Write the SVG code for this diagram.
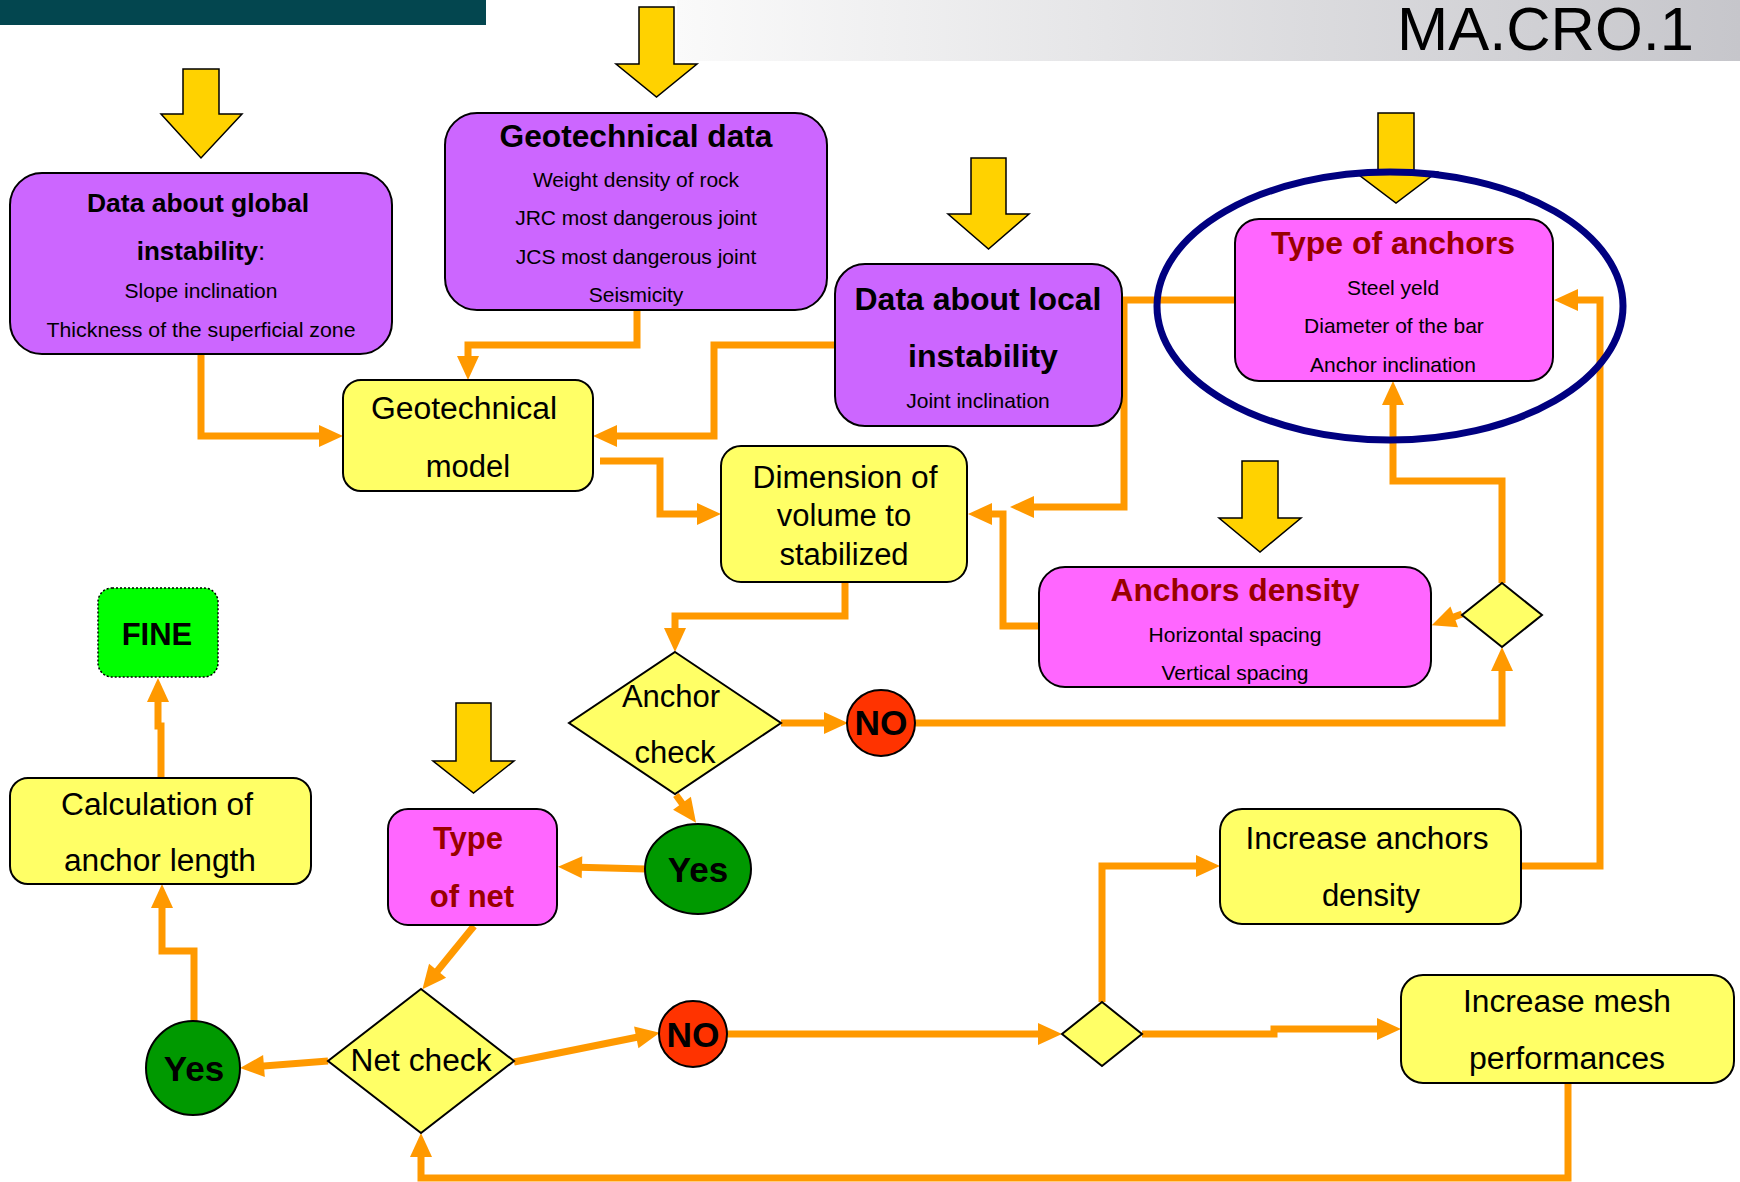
<svg xmlns="http://www.w3.org/2000/svg" width="1740" height="1182" viewBox="0 0 1740 1182">
  <style>
    .t { font-family: "Liberation Sans", Arial, Helvetica, sans-serif; text-anchor: middle; fill: #000; }
    .b { font-weight: bold; }
    .dr { fill: #990000; }
    .s21 { font-size: 21px; }
    .s26 { font-size: 26px; }
    .s31 { font-size: 31px; }
    .s35 { font-size: 35px; }
    .purple { fill: #CC66FF; stroke: #000; stroke-width: 2; }
    .magenta { fill: #FF66FF; stroke: #000; stroke-width: 2; }
    .yellow { fill: #FFFF66; stroke: #000; stroke-width: 2; }
    .no { fill: #FF3300; stroke: #000; stroke-width: 2; }
    .yes { fill: #009900; stroke: #000; stroke-width: 2; }
    .fine { fill: #00FF00; stroke: #000; stroke-width: 1.5; stroke-dasharray: 2 2; }
    .big { fill: #FFD200; stroke: #000; stroke-width: 1.5; stroke-linejoin: miter; }
    .link { fill: none; stroke: #FF9900; stroke-width: 7; stroke-linejoin: miter; }
    .arr { marker-end: url(#ah); }
  </style>
  <defs>
    <marker id="ah" markerUnits="userSpaceOnUse" markerWidth="24" markerHeight="22" refX="12" refY="11" orient="auto" overflow="visible">
      <path d="M0,0 L24,11 L0,22 z" fill="#FF9900"/>
    </marker>
    <linearGradient id="hdr" x1="0" y1="0" x2="1" y2="0">
      <stop offset="0" stop-color="#FAFAFA"/>
      <stop offset="1" stop-color="#C6C6CB"/>
    </linearGradient>
    <filter id="soft" x="-5%" y="-5%" width="110%" height="110%">
      <feGaussianBlur stdDeviation="0.7"/>
    </filter>
  </defs>

  <rect width="1740" height="1182" fill="#fff"/>

  <!-- header bands -->
  <g id="header">
    <rect x="0" y="0" width="486" height="25" fill="#03464F"/>
    <rect x="677" y="0" width="1063" height="61" fill="url(#hdr)"/>
    <text class="t" x="1397" y="50" font-size="62" style="text-anchor:start" textLength="297" lengthAdjust="spacingAndGlyphs">MA.CRO.1</text>
  </g>

  <!-- input block arrows -->
  <g id="inputs">
    <polygon class="big" points="183,69 219,69 219,114 242,114 201,158 161,114 183,114"/>
    <polygon class="big" points="639,7 674,7 674,64 697,64 656.5,97 616,64 639,64"/>
    <polygon class="big" points="971,158 1006,158 1006,214 1029,214 988.5,249 948,214 971,214"/>
    <polygon class="big" points="1378,113 1414,113 1414,172 1437,172 1396,203 1355,172 1378,172"/>
    <polygon class="big" points="456,703 491,703 491,761 514,761 473.5,793 433,761 456,761"/>
    <polygon class="big" points="1242,461 1278,461 1278,518 1301,518 1260,552 1219,518 1242,518"/>
  </g>

  <!-- connectors -->
  <g id="connectors">
    <path class="link arr" d="M201,354 V436 H331"/>
    <path class="link arr" d="M637,310 V345 H468 V368"/>
    <path class="link arr" d="M834,345 H714 V436 H605"/>
    <path class="link arr" d="M600,461 H660 V514 H709"/>
    <path class="link arr" d="M1235,300 H1124 V507 H1022"/>
    <path class="link arr" d="M1039,626 H1003 V514 H980"/>
    <path class="link arr" d="M845,581 V616 H675 V640"/>
    <path class="link arr" d="M781,723 H836"/>
    <path class="link arr" d="M915,723 H1502 V659"/>
    <path class="link arr" d="M1502,583 V481 H1393 V393"/>
    <path class="link arr" d="M1462,614 L1443,621"/>
    <path class="link arr" d="M676,795 L689,813"/>
    <path class="link arr" d="M646,869 L570,867"/>
    <path class="link arr" d="M474,926 L430,980"/>
    <path class="link arr" d="M328,1061 L252,1067"/>
    <path class="link arr" d="M514,1062 L648,1035"/>
    <path class="link arr" d="M727,1034 H1050"/>
    <path class="link arr" d="M1102,1002 V866 H1208"/>
    <path class="link arr" d="M1142,1034 H1274 V1029 H1389"/>
    <path class="link arr" d="M1522,866 H1600 V300 H1566"/>
    <path class="link arr" d="M1568,1083 V1178 H421 V1145"/>
    <path class="link arr" d="M161,778 V726 H158 V690"/>
    <path class="link arr" d="M194,1021 V951 H162 V896"/>
  </g>

  <!-- nodes -->
  <g id="global-data">
    <rect class="purple" x="10" y="173" width="382" height="181" rx="32"/>
    <text class="t b s26" x="198" y="212" textLength="222" lengthAdjust="spacingAndGlyphs">Data about global</text>
    <text class="t s26" x="201" y="260"><tspan font-weight="bold">instability</tspan>:</text>
    <text class="t s21" x="201" y="298">Slope inclination</text>
    <text class="t s21" x="201" y="337" textLength="309" lengthAdjust="spacingAndGlyphs">Thickness of the superficial zone</text>
  </g>

  <g id="geotechnical-data">
    <rect class="purple" x="445" y="113" width="382" height="197" rx="32"/>
    <text class="t b s31" x="636" y="147" textLength="273" lengthAdjust="spacingAndGlyphs">Geotechnical data</text>
    <text class="t s21" x="636" y="187">Weight density of rock</text>
    <text class="t s21" x="636" y="225">JRC most dangerous joint</text>
    <text class="t s21" x="636" y="264">JCS most dangerous joint</text>
    <text class="t s21" x="636" y="302">Seismicity</text>
  </g>

  <g id="local-data">
    <rect class="purple" x="835" y="264" width="287" height="162" rx="30"/>
    <text class="t b s31" x="978" y="310" textLength="247" lengthAdjust="spacingAndGlyphs">Data about local</text>
    <text class="t b s31" x="983" y="367" textLength="150" lengthAdjust="spacingAndGlyphs">instability</text>
    <text class="t s21" x="978" y="408">Joint inclination</text>
  </g>

  <g id="type-of-anchors">
    <rect class="magenta" x="1235" y="219" width="318" height="162" rx="24"/>
    <text class="t b s31 dr" x="1393" y="254" textLength="244" lengthAdjust="spacingAndGlyphs">Type of anchors</text>
    <text class="t s21" x="1393" y="295">Steel yeld</text>
    <text class="t s21" x="1394" y="333">Diameter of the bar</text>
    <text class="t s21" x="1393" y="372">Anchor inclination</text>
  </g>

  <g id="geotechnical-model">
    <rect class="yellow" x="343" y="380" width="250" height="111" rx="18"/>
    <text class="t s31" x="464" y="419" textLength="186" lengthAdjust="spacingAndGlyphs">Geotechnical</text>
    <text class="t s31" x="468" y="477">model</text>
  </g>

  <g id="volume">
    <rect class="yellow" x="721" y="446" width="246" height="136" rx="20"/>
    <text class="t s31" x="845" y="488" textLength="185" lengthAdjust="spacingAndGlyphs">Dimension of</text>
    <text class="t s31" x="844" y="526">volume to</text>
    <text class="t s31" x="844" y="565">stabilized</text>
  </g>

  <g id="anchors-density">
    <rect class="magenta" x="1039" y="567" width="392" height="120" rx="26"/>
    <text class="t b s31 dr" x="1235" y="601" textLength="249" lengthAdjust="spacingAndGlyphs">Anchors density</text>
    <text class="t s21" x="1235" y="642">Horizontal spacing</text>
    <text class="t s21" x="1235" y="680">Vertical spacing</text>
  </g>

  <g id="density-switch">
    <polygon class="yellow" points="1502,583 1542,615 1502,647 1462,615"/>
  </g>

  <g id="fine">
    <rect class="fine" x="98" y="588" width="120" height="89" rx="14"/>
    <text class="t b s31" x="157" y="645">FINE</text>
  </g>

  <g id="anchor-length">
    <rect class="yellow" x="10" y="778" width="301" height="106" rx="18"/>
    <text class="t s31" x="157" y="815" textLength="192" lengthAdjust="spacingAndGlyphs">Calculation of</text>
    <text class="t s31" x="160" y="871" textLength="192" lengthAdjust="spacingAndGlyphs">anchor length</text>
  </g>

  <g id="anchor-check">
    <polygon class="yellow" points="675,652 781,723 675,794 569,723"/>
    <text class="t s31" x="671" y="707">Anchor</text>
    <text class="t s31" x="675" y="763">check</text>
  </g>

  <g id="anchor-no">
    <ellipse class="no" cx="881" cy="723" rx="34" ry="33"/>
    <text class="t b s35" x="881" y="735" textLength="53" lengthAdjust="spacingAndGlyphs">NO</text>
  </g>

  <g id="anchor-yes">
    <ellipse class="yes" cx="698" cy="869" rx="53" ry="45"/>
    <text class="t b s35" x="698" y="882">Yes</text>
  </g>

  <g id="type-of-net">
    <rect class="magenta" x="388" y="809" width="169" height="116" rx="20"/>
    <text class="t b s31 dr" x="468" y="849">Type</text>
    <text class="t b s31 dr" x="472" y="907">of net</text>
  </g>

  <g id="net-check">
    <polygon class="yellow" points="421,989 514,1061 421,1133 328,1061"/>
    <text class="t s31" x="421" y="1071" textLength="141" lengthAdjust="spacingAndGlyphs">Net check</text>
  </g>

  <g id="net-yes">
    <ellipse class="yes" cx="193" cy="1068" rx="47" ry="47"/>
    <text class="t b s35" x="194" y="1081">Yes</text>
  </g>

  <g id="net-no">
    <ellipse class="no" cx="693" cy="1034" rx="34" ry="33"/>
    <text class="t b s35" x="693" y="1047" textLength="53" lengthAdjust="spacingAndGlyphs">NO</text>
  </g>

  <g id="net-switch">
    <polygon class="yellow" points="1102,1002 1142,1034 1102,1066 1062,1034"/>
  </g>

  <g id="increase-anchors">
    <rect class="yellow" x="1220" y="809" width="301" height="115" rx="22"/>
    <text class="t s31" x="1367" y="849" textLength="243" lengthAdjust="spacingAndGlyphs">Increase anchors</text>
    <text class="t s31" x="1371" y="906">density</text>
  </g>

  <g id="increase-mesh">
    <rect class="yellow" x="1401" y="975" width="333" height="108" rx="22"/>
    <text class="t s31" x="1567" y="1012" textLength="208" lengthAdjust="spacingAndGlyphs">Increase mesh</text>
    <text class="t s31" x="1567" y="1069" textLength="196" lengthAdjust="spacingAndGlyphs">performances</text>
  </g>

  <!-- highlight ring round the anchor type -->
  <g id="highlight">
    <ellipse cx="1390" cy="306" rx="233" ry="134" fill="none" stroke="#000080" stroke-width="7" filter="url(#soft)"/>
  </g>
</svg>
